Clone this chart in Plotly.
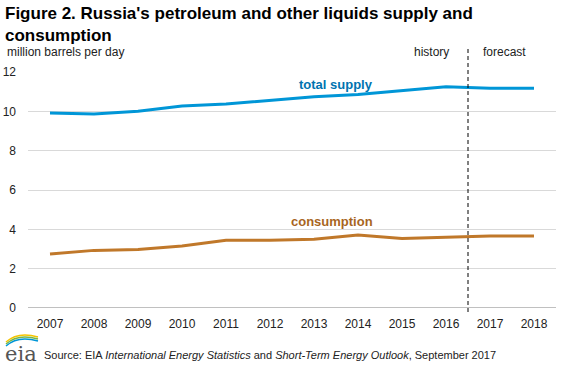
import plotly.graph_objects as go

years = [2007, 2008, 2009, 2010, 2011, 2012, 2013, 2014, 2015, 2016, 2017, 2018]
total_supply = [9.91, 9.87, 10.00, 10.27, 10.37, 10.57, 10.74, 10.86, 11.05, 11.25, 11.18, 11.18]
consumption = [2.74, 2.93, 2.98, 3.15, 3.44, 3.44, 3.49, 3.71, 3.54, 3.61, 3.66, 3.66]
y_ticks = [0, 2, 4, 6, 8, 10, 12]
split_year = 2016.5

FONT = "Liberation Sans, Arial, sans-serif"
W, H = 564, 367
L, R, T, B = 28, 8, 72, 59
PW, PH = W - L - R, H - T - B

def px(x):
    return (x - L) / PW

def py(y):
    return (H - B - y) / PH

fig = go.Figure()
fig.add_trace(go.Scatter(x=years, y=total_supply, mode="lines",
                         line=dict(color="#0096d7", width=3), hoverinfo="skip"))
fig.add_trace(go.Scatter(x=years, y=consumption, mode="lines",
                         line=dict(color="#c0782a", width=3), hoverinfo="skip"))

fig.update_layout(
    width=W, height=H,
    margin=dict(l=L, r=R, t=T, b=B),
    paper_bgcolor="white", plot_bgcolor="white",
    showlegend=False,
    font=dict(family=FONT, size=12, color="#222222"),
    xaxis=dict(range=[2006.5, 2018.5], tickvals=years, ticktext=[str(y) for y in years],
               showgrid=False, zeroline=False, showline=False, ticks="",
               ticklabelstandoff=7, automargin=False,
               tickfont=dict(size=12, color="#222222")),
    yaxis=dict(range=[0, 12], tickvals=y_ticks, showgrid=True, gridcolor="#d9d9d9",
               gridwidth=1, zeroline=False, showline=False, ticks="",
               ticklabelstandoff=11, automargin=False,
               tickfont=dict(size=12, color="#222222")),
)

# zero axis line
fig.add_shape(type="line", xref="paper", yref="y", x0=0, x1=1, y0=0, y1=0,
              line=dict(color="#808080", width=1))
# history / forecast divider
fig.add_shape(type="line", xref="x", yref="paper", x0=split_year, x1=split_year,
              y0=py(312), y1=py(47), line=dict(color="#000000", width=1, dash="4px,3px"))

annotations = [
    dict(text="<b>Figure 2. Russia's petroleum and other liquids supply and<br>consumption</b>",
         x=px(3), y=py(2), xanchor="left", yanchor="top", align="left",
         font=dict(size=17, color="#000000")),
    dict(text="million barrels per day", x=px(5), y=py(43), xanchor="left", yanchor="top",
         font=dict(size=12, color="#222222")),
    dict(text="history", x=px(451), y=py(43), xanchor="right", yanchor="top",
         font=dict(size=12, color="#222222")),
    dict(text="forecast", x=px(481), y=py(43), xanchor="left", yanchor="top",
         font=dict(size=12, color="#222222")),
    dict(text="<b>total supply</b>", x=2013.5, y=total_supply[6] + 0.15, xref="x", yref="y",
         xanchor="center", yanchor="bottom", font=dict(size=13, color="#0073b0")),
    dict(text="<b>consumption</b>", x=2013.4, y=consumption[6] + 0.45, xref="x", yref="y",
         xanchor="center", yanchor="bottom", font=dict(size=13, color="#a8651e")),
    dict(text="Source: EIA <i>International Energy Statistics</i> and <i>Short-Term Energy Outlook</i>, September 2017",
         x=px(42), y=py(355), xanchor="left", yanchor="middle",
         font=dict(size=11, color="#222222")),
    dict(text="eia", x=px(3), y=py(354), xanchor="left", yanchor="middle",
         font=dict(size=21, color="#555555", family="DejaVu Serif, serif")),
]
for a in annotations:
    a.setdefault("xref", "paper")
    a.setdefault("yref", "paper")
    a["showarrow"] = False
fig.update_layout(annotations=annotations)

# logo arcs
arcs = [("#f5c400", 339), ("#7ab648", 341), ("#0096d7", 343)]
for color, yy in arcs:
    fig.add_shape(type="path", xref="paper", yref="paper",
                  path=f"M {px(6)} {py(yy+3)} Q {px(18)} {py(yy-8)} {px(38)} {py(yy-2)}",
                  line=dict(color=color, width=1.5))

fig.write_html("out.html", config={"displayModeBar": False},
               post_script="document.body.style.margin='0px';document.body.style.overflow='hidden';")
